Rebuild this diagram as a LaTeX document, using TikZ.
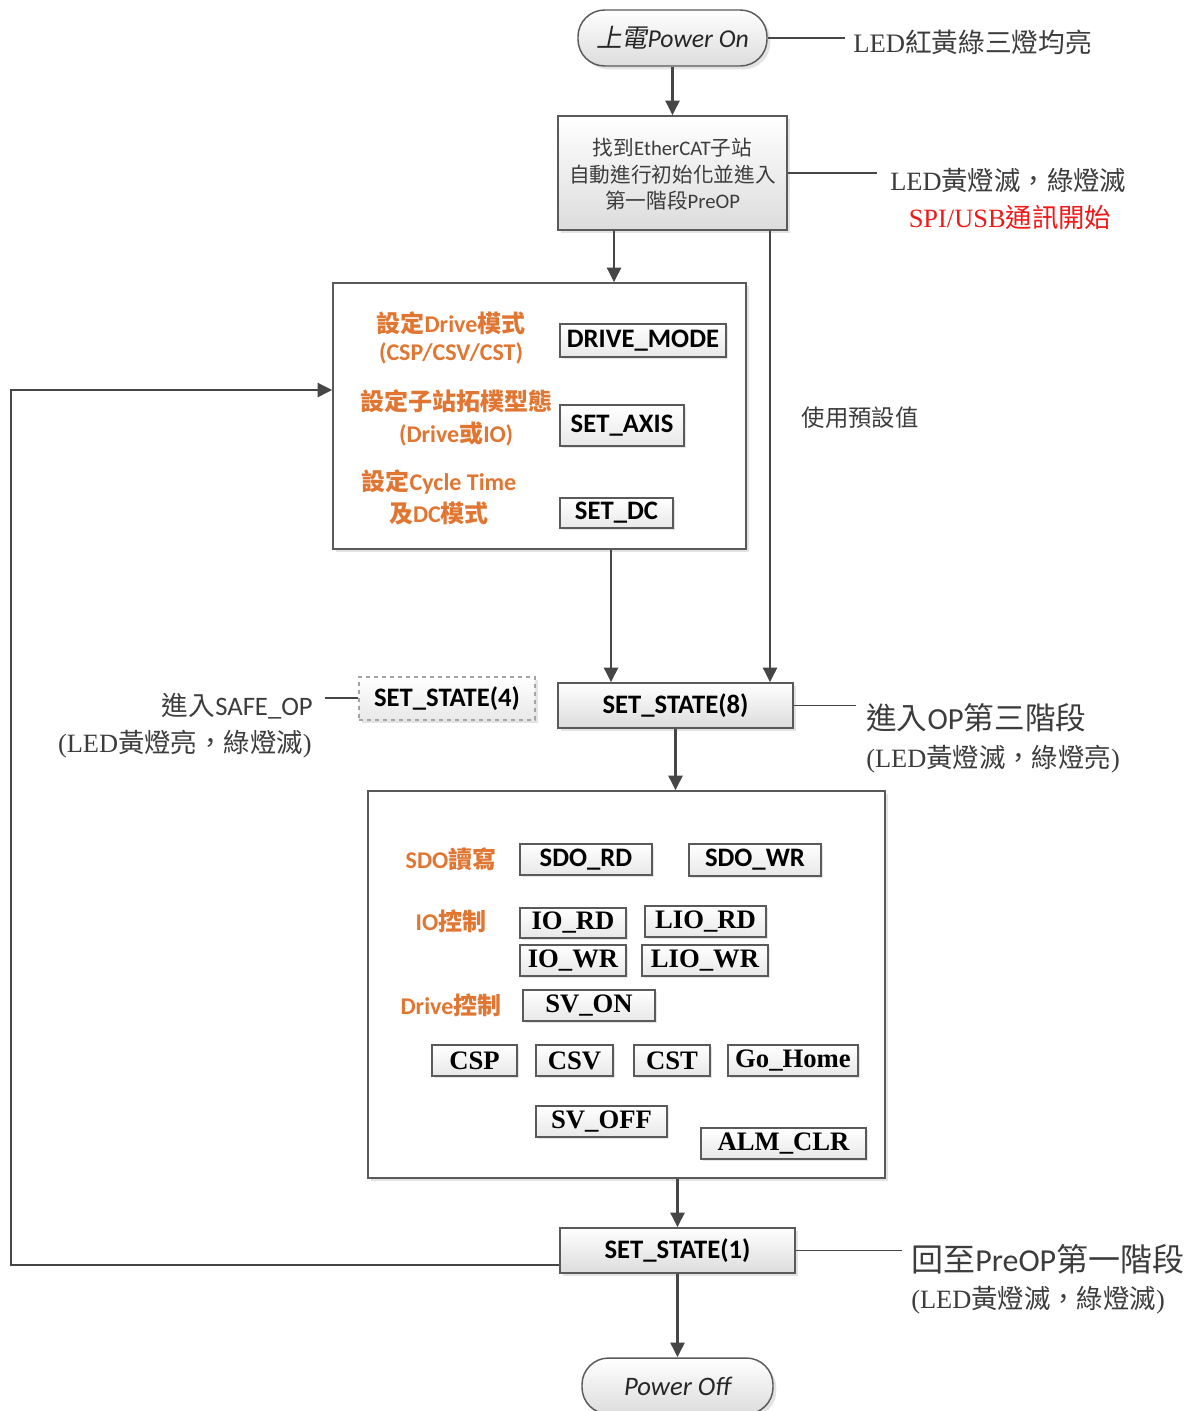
\documentclass[tikz,border=0pt]{standalone}
\usepackage{fontspec}
\setmainfont{Liberation Serif}
\newfontfamily\calib{Carlito}
\newfontfamily\cjk{Noto Sans CJK TC}
\newfontfamily\cjki{Noto Sans CJK TC}[FakeSlant=0.2]
\usetikzlibrary{arrows.meta,shadows,fit}
\newcommand\zh[1]{{\cjk #1}}
\newcommand\zhb[1]{{\cjk\bfseries #1}}
\newcommand\fsz[1]{\fontsize{#1pt}{1.2\dimexpr#1pt\relax}\selectfont}
\definecolor{ln}{RGB}{70,70,70}
\definecolor{bord}{RGB}{90,90,90}
\definecolor{gb}{RGB}{220,220,220}
\definecolor{gs}{RGB}{232,232,232}
\definecolor{txt}{RGB}{60,60,60}
\definecolor{org}{RGB}{224,118,50}
\definecolor{redt}{RGB}{240,25,25}
\begin{document}
\begin{tikzpicture}[x=0.75pt,y=-0.75pt,
  arr/.style={draw=ln, line width=1.8pt, -{Triangle[width=10.5pt,length=11pt]}},
  ann/.style={draw=ln, line width=0.8pt},
  gbox/.style={draw=bord, line width=1.1pt, top color=white, bottom color=gb,
    drop shadow={opacity=0.22, shadow xshift=2.5pt, shadow yshift=-2.5pt}, inner sep=0pt},
  bigbox/.style={draw=bord, line width=1.1pt, fill=white,
    drop shadow={opacity=0.22, shadow xshift=2.5pt, shadow yshift=-2.5pt}, inner sep=0pt},
  term/.style={gbox, rounded corners=20pt},
  sbox/.style={draw=bord, line width=1pt, top color=white, bottom color=gs,
    drop shadow={opacity=0.2, shadow xshift=1.8pt, shadow yshift=-1.8pt}, inner sep=0pt},
  ctxt/.style={inner sep=0pt, text=black, font=\fsz{20}\calib\bfseries},
  ttxt/.style={inner sep=0pt, text=black, font=\fsz{20}\bfseries},
  olbl/.style={inner sep=0pt, text=org, font=\fsz{18}\calib\bfseries},
  slbl/.style={inner sep=0pt, text=txt, font=\fsz{19.8}},
]
\useasboundingbox[fill=white] (0,0) rectangle (1198,1411);

% ---------- top ----------
\node[term, fit={(578,10)(767,66)}] (pon) {};
\node[inner sep=0pt, font=\fsz{19.3}, text=black!85] (ponT) at (pon.center) {\cjki 上電\calib\itshape Power On};
\coordinate (a1) at (845,38);
\draw[ann] (pon.east) -- (a1);
\node[slbl, font=\fsz{20}, anchor=west] (t1) at (853,42) {LED\zh{紅黃綠三燈均亮}};

\node[gbox, fit={(558,116)(787,230)}] (b1) {};
\node[inner sep=0pt, align=center, text=txt, font=\fontsize{15.5pt}{20pt}\selectfont\calib] (b1T) at ([yshift=-1pt]b1.center)
  {\zh{找到}EtherCAT\zh{子站}\\ \zh{自動進行初始化並進入}\\ \zh{第一階段}PreOP};
\draw[arr] (pon.south) -- (b1.north);
\coordinate (a2) at (877,173);
\draw[ann] (b1.east) -- (a2);
\node[slbl, anchor=west] (t2) at (890,180) {LED\zh{黃燈滅，綠燈滅}};
\node[slbl, text=redt] (t3) at (1010,217) {SPI/USB\zh{通訊開始}};

% ---------- config box ----------
\node[bigbox, fit={(333,283)(746,549)}] (b2) {};
\coordinate (x614) at (614,0);
\draw[arr] (b1.south -| x614) -- (b2.north -| x614);

\node[olbl] (o1) at (451,323) {\zhb{設定}Drive\zhb{模式}};
\node[olbl] (o2) at (451,353) {(CSP/CSV/CST)};
\node[olbl] (o3) at (456,401) {\zhb{設定子站拓樸型態}};
\node[olbl] (o4) at (456,434) {(Drive\zhb{或}IO)};
\node[olbl] (o5) at (439,482) {\zhb{設定}Cycle Time};
\node[olbl] (o6) at (439,514) {\zhb{及}DC\zhb{模式}};

\node[sbox, fit={(560,324)(726,357)}] (dm) {};
\node[ctxt] (dmT) at (dm.center) {DRIVE\_MODE};
\node[sbox, fit={(560,405)(684,446)}] (sa) {};
\node[ctxt] (saT) at (sa.center) {SET\_AXIS};
\node[sbox, fit={(560,498)(673,528)}] (sd) {};
\node[ctxt] (sdT) at (sd.center) {SET\_DC};

% ---------- states ----------
\node[gbox, fit={(558,683)(793,728)}] (s8) {};
\node[ctxt] (s8T) at (s8.center) {SET\_STATE(8)};
\node[gbox, draw=bord!55, dashed, line width=0.8pt, top color=white, bottom color=gs, fit={(359,677)(535,720)}] (s4) {};
\node[ctxt] (s4T) at (s4.center) {SET\_STATE(4)};

\coordinate (x611) at (611,0);
\draw[arr] (b2.south -| x611) -- (s8.north -| x611);
\coordinate (x770) at (770,0);
\draw[arr] (b1.south -| x770) -- (s8.north -| x770);
\node[inner sep=0pt, text=txt, font=\fsz{17.5}\cjk] (t4) at (860,418) {使用預設值};

\coordinate (a4) at (325,698);
\draw[ann] (a4) -- (a4 -| s4.west);
\node[inner sep=0pt, text=txt, font=\fsz{20}\calib, anchor=east] (t5) at (313,706) {\zh{進入}SAFE\_OP};
\node[slbl, anchor=east] (t6) at (312,744) {(LED\zh{黃燈亮，綠燈滅})};

\coordinate (a8) at (856,705);
\draw[ann] (s8.east) -- (a8 |- s8.east);
\node[inner sep=0pt, text=txt, font=\fsz{23}\calib, anchor=west] (t7) at (866,718) {\zh{進入}OP\zh{第三階段}};
\node[slbl, anchor=west] (t8) at (866,759) {(LED\zh{黃燈滅，綠燈亮})};

% ---------- operation box ----------
\node[bigbox, fit={(368,791)(885,1178)}] (b3) {};
\draw[arr] (s8.south) -- (b3.north -| s8.south);

\node[olbl] (o7) at (451,859) {SDO\zhb{讀寫}};
\node[olbl] (o8) at (451,921) {IO\zhb{控制}};
\node[olbl] (o9) at (451,1005) {Drive\zhb{控制}};

\node[sbox, fit={(520,844)(652,875)}] (sdr) {};
\node[ctxt] (sdrT) at (sdr.center) {SDO\_RD};
\node[sbox, fit={(689,844)(821,876)}] (sdw) {};
\node[ctxt] (sdwT) at (sdw.center) {SDO\_WR};
\node[sbox, fit={(520,908)(626,938)}] (ior) {};
\node[ttxt] (iorT) at (ior.center) {IO\_RD};
\node[sbox, fit={(645,906)(766,937)}] (lior) {};
\node[ttxt] (liorT) at (lior.center) {LIO\_RD};
\node[sbox, fit={(520,945)(626,976)}] (iow) {};
\node[ttxt] (iowT) at (iow.center) {IO\_WR};
\node[sbox, fit={(642,945)(768,976)}] (liow) {};
\node[ttxt] (liowT) at (liow.center) {LIO\_WR};
\node[sbox, fit={(523,990)(655,1021)}] (svon) {};
\node[ttxt] (svonT) at (svon.center) {SV\_ON};
\node[sbox, fit={(432,1045)(517,1076)}] (csp) {};
\node[ttxt] (cspT) at (csp.center) {CSP};
\node[sbox, fit={(536,1045)(613,1076)}] (csv) {};
\node[ttxt] (csvT) at (csv.center) {CSV};
\node[sbox, fit={(634,1045)(710,1076)}] (cst) {};
\node[ttxt] (cstT) at (cst.center) {CST};
\node[sbox, fit={(728,1045)(858,1076)}] (gh) {};
\node[ttxt] (ghT) at (gh.center) {Go\_Home};
\node[sbox, fit={(536,1106)(667,1137)}] (svoff) {};
\node[ttxt] (svoffT) at (svoff.center) {SV\_OFF};
\node[sbox, fit={(701,1128)(866,1159)}] (alm) {};
\node[ttxt] (almT) at (alm.center) {ALM\_CLR};

% ---------- bottom ----------
\node[gbox, fit={(560,1228)(795,1273)}] (s1) {};
\node[ctxt] (s1T) at (s1.center) {SET\_STATE(1)};
\draw[arr] (b3.south -| s1.north) -- (s1.north);
\coordinate (a9) at (902,1250);
\draw[ann] (s1.east) -- (a9 |- s1.east);
\node[inner sep=0pt, text=txt, font=\fsz{24}\calib, anchor=west] (t9) at (911,1259) {\zh{回至}PreOP\zh{第一階段}};
\node[slbl, anchor=west] (t10) at (911,1300) {(LED\zh{黃燈滅，綠燈滅})};

\node[term, fit={(582,1358)(773,1414)}] (poff) {};
\node[inner sep=0pt, font=\fsz{20}\calib\itshape, text=black!85] (poffT) at (poff.center) {Power Off};
\draw[arr] (s1.south) -- (poff.north);

\coordinate (fbs) at (0,1265);
\coordinate (fb) at (11,390);
\draw[arr] (s1.west |- fbs) -| (fb) -- (fb -| b2.west);
\end{tikzpicture}
\end{document}
